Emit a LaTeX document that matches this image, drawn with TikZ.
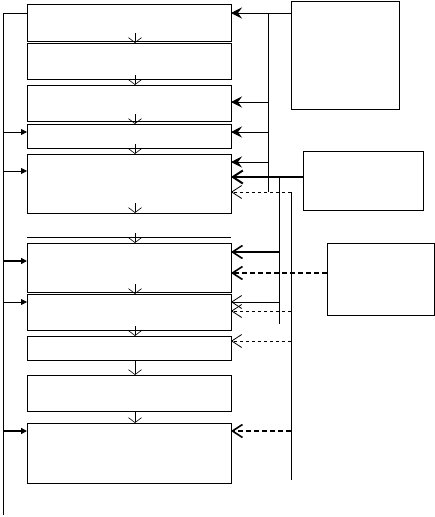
\documentclass[tikz,border=0pt]{standalone}
\usetikzlibrary{arrows.meta,calc}
\begin{document}
\begin{tikzpicture}[x=1pt,y=-1pt,
  blk/.style={draw,line width=0.8pt,minimum width=204pt,inner sep=0pt,outer sep=0pt,anchor=north west},
  aux/.style={draw,line width=0.8pt,inner sep=0pt,outer sep=0pt,anchor=north west},
  dn/.style={line width=0.6pt,-{Straight Barb[length=5pt,width=13pt]}},
  fed/.style={line width=0.8pt,-{Triangle[length=6pt,width=6pt]}},
  ctl/.style={line width=0.8pt,-{Stealth[length=11pt,width=11pt,inset=4pt]}},
  opn/.style={line width=#1,-{Straight Barb[length=10pt,width=13pt]}},
  opn/.default=0.8pt,
  ldash/.style={dash pattern=on 5pt off 3pt}]
  \useasboundingbox (0,0) rectangle (435,517);

  % main chain
  \node[blk,minimum height=37pt] (S1) at (27,4) {};
  \node[blk,minimum height=36pt] (S2) at (27,43) {};
  \node[blk,minimum height=36pt] (S3) at (27,85) {};
  \node[blk,minimum height=24pt] (S4) at (27,124) {};
  \node[blk,minimum height=59pt] (S5) at (27,154) {};
  \node[blk,minimum height=49pt] (S6) at (27,243) {};
  \node[blk,minimum height=36pt] (S7) at (27,294) {};
  \node[blk,minimum height=24pt] (S8) at (27,336) {};
  \node[blk,minimum height=36pt] (S9) at (27,375) {};
  \node[blk,minimum height=60pt] (S10) at (27,423) {};
  \draw[line width=0.8pt] ([yshift=6pt]S6.north west) -- ([yshift=6pt]S6.north east);

  % side blocks
  \node[aux,minimum width=108pt,minimum height=108pt] (R1) at (291,1) {};
  \node[aux,minimum width=120pt,minimum height=59pt] (R2) at (303,151) {};
  \node[aux,minimum width=107pt,minimum height=72pt] (R3) at (327,243) {};

  % downward flow
  \foreach \t in {S2,S3,S4,S5,S6,S7,S8}
    \draw[dn] ([xshift=6pt,yshift=10pt]\t.north) -- ([xshift=6pt]\t.north);
  \draw[dn] ([xshift=6pt,yshift=10pt]S5.south) -- ([xshift=6pt]S5.south);
  \draw[dn] ([xshift=6pt]S8.south) -- ([xshift=6pt]S9.north);
  \draw[dn] ([xshift=6pt]S9.south) -- ([xshift=6pt]S10.north);

  % left feedback line
  \coordinate (L0) at (3,13);
  \coordinate (L1) at (3,515);
  \draw[line width=0.8pt] (S1.west |- L0) -- (L0) -- (L1);
  \foreach \y/\t/\w in {132/S4/0.8pt,171/S5/0.8pt,261/S6/1.6pt,302/S7/0.8pt,431/S10/1.6pt}
    \draw[fed,line width=\w] (L0 |- 0,\y) -- (\t.west |- 0,\y);

  % right lines
  \coordinate (V1t) at (268,13);
  \coordinate (V1b) at (268,192);
  \draw[ctl] (R1.west |- V1t) -- (S1.east |- V1t);
  \draw[line width=0.8pt] (V1t) -- (V1b);
  \foreach \y/\t in {102/S3,132/S4,162/S5}
    \draw[ctl] (V1t |- 0,\y) -- (\t.east |- 0,\y);

  \coordinate (V2t) at (279,177);
  \coordinate (V2b) at (279,324);
  \draw[opn=2pt] (R2.west |- V2t) -- (S5.east |- V2t);
  \draw[line width=0.8pt] (V2t) -- (V2b);
  \draw[opn=1.6pt] (V2t |- 0,252) -- (S6.east |- 0,252);
  \draw[opn] (V2t |- 0,302) -- (S7.east |- 0,302);

  \coordinate (V3t) at (291,192);
  \coordinate (V3b) at (291,480);
  \draw[line width=0.8pt] (V3t) -- (V3b);
  \foreach \y/\t in {192/S5,311/S7,341/S8}
    \draw[opn,dashed] (V3t |- 0,\y) -- (\t.east |- 0,\y);
  \draw[opn=1.6pt,ldash] (V3t |- 0,431) -- (S10.east |- 0,431);
  \draw[opn=1.6pt,ldash] (R3.west |- 0,273) -- (S6.east |- 0,273);
\end{tikzpicture}
\end{document}
